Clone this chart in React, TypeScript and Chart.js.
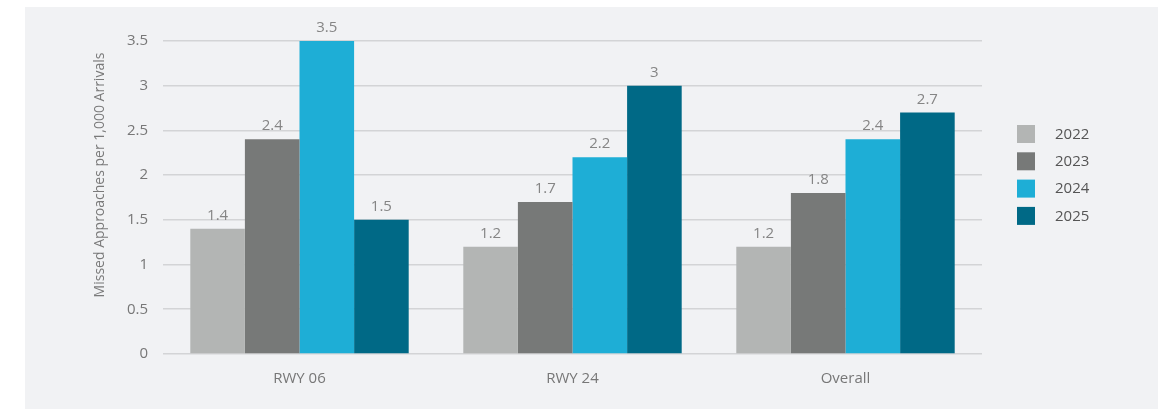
import React, { useEffect, useRef } from "react";
import { Chart, registerables } from "chart.js";

Chart.register(...registerables);

const categories = ["RWY 06", "RWY 24", "Overall"];
const years = ["2022", "2023", "2024", "2025"];
const values2022 = [1.4, 1.2, 1.2];
const values2023 = [2.4, 1.7, 1.8];
const values2024 = [3.5, 2.2, 2.4];
const values2025 = [1.5, 3.0, 2.7];
const yearColors = ["#b3b5b4", "#777978", "#1eaed6", "#006986"];
const yTicks = [0, 0.5, 1, 1.5, 2, 2.5, 3, 3.5];
const yTitle = "Missed Approaches per 1,000 Arrivals";

const FONT = "'Open Sans', sans-serif";

// Value labels drawn above each bar
const barValues = {
  id: "barValues",
  afterDatasetsDraw(chart: any) {
    const { ctx } = chart;
    ctx.save();
    ctx.font = `15px ${FONT}`;
    ctx.fillStyle = "#858585";
    ctx.textAlign = "center";
    ctx.textBaseline = "alphabetic";
    chart.data.datasets.forEach((ds: any, i: number) => {
      const meta = chart.getDatasetMeta(i);
      meta.data.forEach((bar: any, j: number) => {
        ctx.fillText(String(ds.data[j]), bar.x, bar.y - 9);
      });
    });
    ctx.restore();
  },
};

// Rotated y-axis title and the right-hand legend
const sideTexts = {
  id: "sideTexts",
  afterDraw(chart: any) {
    const { ctx, chartArea } = chart;
    ctx.save();
    ctx.font = `14px ${FONT}`;
    ctx.fillStyle = "#7a7a7a";
    ctx.textAlign = "center";
    ctx.textBaseline = "middle";
    ctx.translate(75, 168);
    ctx.rotate(-Math.PI / 2);
    ctx.fillText(yTitle, 0, 0);
    ctx.restore();

    ctx.save();
    const boxX = chartArea.right + 35;
    const startY = 118;
    const rowGap = 27.3;
    ctx.font = `15px ${FONT}`;
    ctx.textAlign = "left";
    ctx.textBaseline = "middle";
    chart.data.datasets.forEach((ds: any, i: number) => {
      const y = startY + i * rowGap;
      ctx.fillStyle = ds.backgroundColor;
      ctx.fillRect(boxX, y, 18, 18);
      ctx.fillStyle = "#555555";
      ctx.fillText(ds.label, boxX + 38, y + 9.5);
    });
    ctx.restore();
  },
};

export default function App() {
  const canvasRef = useRef<HTMLCanvasElement | null>(null);

  useEffect(() => {
    if (!canvasRef.current) return;
    const series = [values2022, values2023, values2024, values2025];
    const chart = new Chart(canvasRef.current, {
      type: "bar",
      data: {
        labels: categories,
        datasets: years.map((y, i) => ({
          label: y,
          data: series[i],
          backgroundColor: yearColors[i],
          borderWidth: 0,
          categoryPercentage: 0.8,
          barPercentage: 1.0,
        })),
      },
      options: {
        animation: false,
        responsive: false,
        maintainAspectRatio: false,
        layout: { padding: { top: 34, right: 176, bottom: 0, left: 0 } },
        plugins: {
          legend: { display: false },
          tooltip: { enabled: false },
        },
        scales: {
          x: {
            grid: { display: false, drawTicks: false },
            border: { display: false },
            ticks: {
              padding: 16,
              color: "#777777",
              font: { family: FONT, size: 15 },
            },
            afterFit(scale: any) {
              scale.height = 55;
            },
          },
          y: {
            min: 0,
            max: 3.5,
            grid: { color: "#d3d4d6", lineWidth: 1.6, drawTicks: false },
            border: { display: false },
            afterBuildTicks(scale: any) {
              scale.ticks = yTicks.map((v) => ({ value: v }));
            },
            ticks: {
              padding: 15,
              color: "#777777",
              font: { family: FONT, size: 15 },
              callback: (v: any) => String(Number(v)),
            },
            afterFit(scale: any) {
              scale.width = 138;
            },
          },
        },
      },
      plugins: [barValues, sideTexts],
    });
    return () => chart.destroy();
  }, []);

  return (
    <div
      style={{
        position: "fixed",
        left: 0,
        top: 0,
        width: 1167,
        height: 409,
        background: "#ffffff",
      }}
    >
      <div
        style={{
          position: "absolute",
          left: 25,
          top: 7,
          width: 1133,
          height: 402,
          background: "#f1f2f4",
        }}
      >
        <canvas
          ref={canvasRef}
          width={1133}
          height={402}
          style={{ display: "block", width: 1133, height: 402 }}
        />
      </div>
    </div>
  );
}
